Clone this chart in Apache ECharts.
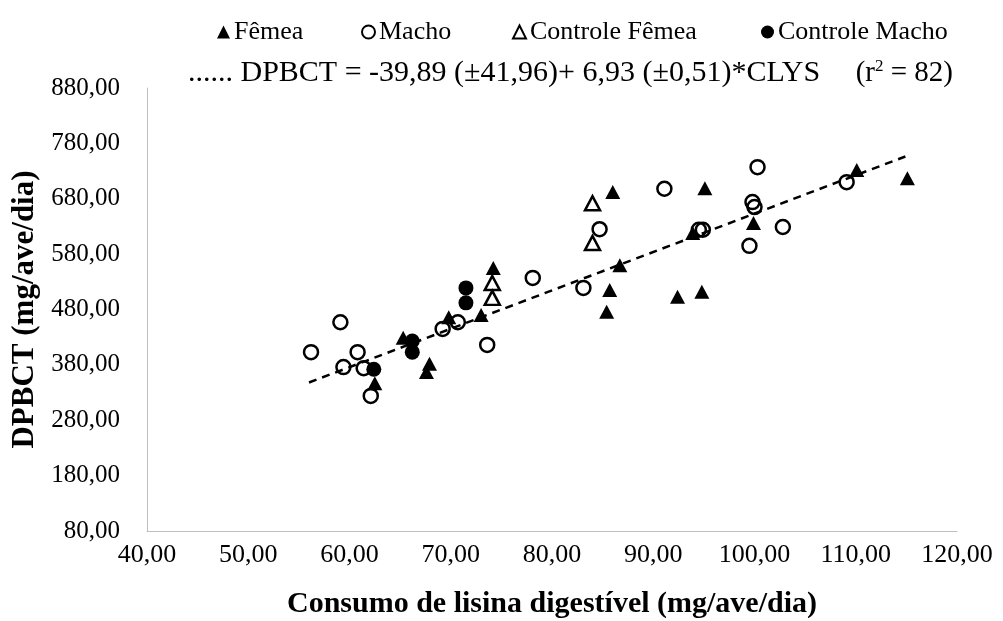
<!DOCTYPE html>
<html>
<head>
<meta charset="utf-8">
<script src="https://cdn.jsdelivr.net/npm/echarts@6/dist/echarts.min.js"></script>
<style>
  html, body { margin: 0; padding: 0; background: #fff; }
  #chart { width: 1003px; height: 621px; }
</style>
</head>
<body>
<div id="chart"></div>
<script>
// Digestible lysine intake (x) vs DPBCT (y), by group
const femea = [
  [62.5, 347], [65.3, 429], [67.9, 382], [67.6, 367], [69.8, 466], [73.0, 470],
  [74.2, 555], [86.0, 692], [86.7, 560], [85.7, 515], [85.4, 476], [95.1, 699],
  [93.9, 618], [92.4, 503], [94.8, 512], [99.9, 636], [110.1, 732], [115.1, 717]
];
const macho = [
  [56.2, 403], [59.1, 457], [59.4, 376], [60.8, 403], [61.4, 374], [62.1, 324],
  [69.2, 445], [70.7, 457], [73.6, 416], [78.1, 537], [83.1, 519], [84.7, 625],
  [91.1, 698], [94.5, 624], [94.9, 624], [100.3, 737], [99.8, 674], [100.0, 665],
  [99.5, 595], [102.8, 629], [109.1, 710]
];
const controleFemea = [[74.1, 528], [74.1, 501], [84.0, 672], [84.0, 600]];
const controleMacho = [[62.4, 372], [66.2, 423], [66.2, 403], [71.5, 519], [71.5, 492]];

// Fitted regression: DPBCT = -39,89 + 6,93 * CLYS
const intercept = -39.89;
const slope = 6.93;
const fitRange = [56.0, 114.9];
const fitLine = fitRange.map(x => [x, intercept + slope * x]);

const xTicks = { min: 40, max: 120, interval: 10 };
const yTicks = { min: 80, max: 880, interval: 100 };

const equationText = '...... DPBCT = -39,89 (±41,96)+ 6,93 (±0,51)*CLYS';
const r2Text = '(r{sup|2} = 82)';

const serif = '"Liberation Serif", "Times New Roman", serif';
const fmt = v => v.toFixed(2).replace('.', ',');

const chart = echarts.init(document.getElementById('chart'));

const openStyle = { color: '#ffffff', borderColor: '#000000', borderWidth: 2.5, opacity: 1 };
const fillStyle = { color: '#000000', borderColor: '#000000', borderWidth: 0, opacity: 1 };

function legendAt(name, left) {
  return {
    data: [name], left: left, top: 14, itemWidth: 13, itemHeight: 13, itemGap: 0,
    selectedMode: false,
    textStyle: { fontFamily: serif, fontSize: 26, color: '#000', padding: [0, 0, 0, -1] }
  };
}

chart.setOption({
  animation: false,
  backgroundColor: '#ffffff',
  grid: {
    left: 147, right: 46, top: 88, bottom: 90,
    containLabel: false, outerBoundsMode: 'none'
  },
  legend: [
    legendAt('Fêmea', 212),
    legendAt('Macho', 356),
    legendAt('Controle Fêmea', 507),
    legendAt('Controle Macho', 756)
  ],
  xAxis: {
    type: 'value', min: xTicks.min, max: xTicks.max, interval: xTicks.interval,
    name: 'Consumo de lisina digestível (mg/ave/dia)',
    nameLocation: 'middle', nameGap: 58,
    nameTextStyle: { fontFamily: serif, fontSize: 30, fontWeight: 'bold', color: '#000' },
    axisLine: { show: true, lineStyle: { color: '#bfbfbf', width: 1 } },
    axisTick: { show: false },
    splitLine: { show: false },
    axisLabel: { formatter: fmt, fontFamily: serif, fontSize: 26, color: '#000', margin: 11 }
  },
  yAxis: {
    type: 'value', min: yTicks.min, max: yTicks.max, interval: yTicks.interval,
    name: 'DPBCT (mg/ave/dia)',
    nameLocation: 'middle', nameGap: 107, nameRotate: 90,
    nameTextStyle: { fontFamily: serif, fontSize: 31, fontWeight: 'bold', color: '#000' },
    axisLine: { show: true, lineStyle: { color: '#bfbfbf', width: 1 } },
    axisTick: { show: false },
    splitLine: { show: false },
    axisLabel: { formatter: fmt, fontFamily: serif, fontSize: 25, color: '#000', margin: 27 }
  },
  graphic: [
    {
      type: 'text', x: 188, y: 73,
      style: {
        text: equationText, fontFamily: serif, fontSize: 30, fill: '#000',
        align: 'left', verticalAlign: 'middle'
      }
    },
    {
      type: 'text', x: 953, y: 73,
      style: {
        text: r2Text, fontFamily: serif, fontSize: 29, fill: '#000',
        align: 'right', verticalAlign: 'middle',
        rich: { sup: { fontFamily: serif, fontSize: 17, verticalAlign: 'top', padding: [0, 0, 10, 0] } }
      }
    }
  ],
  series: [
    {
      name: 'Fêmea', type: 'scatter', data: femea, symbol: 'triangle', symbolSize: [15, 14],
      itemStyle: fillStyle, z: 3
    },
    {
      name: 'Macho', type: 'scatter', data: macho, symbol: 'circle', symbolSize: 14,
      itemStyle: { color: 'rgba(255,255,255,0)', borderColor: '#000', borderWidth: 2.5, opacity: 1 }, z: 4
    },
    {
      name: 'Controle Fêmea', type: 'scatter', data: controleFemea, symbol: 'triangle', symbolSize: [15, 14],
      itemStyle: openStyle, z: 3
    },
    {
      name: 'Controle Macho', type: 'scatter', data: controleMacho, symbol: 'circle', symbolSize: 15,
      itemStyle: fillStyle, z: 3
    },
    {
      name: 'Ajuste', type: 'line', data: fitLine, symbol: 'none', silent: true,
      lineStyle: { color: '#000', width: 2.5, type: [8, 6] }, z: 5
    }
  ]
});
</script>
</body>
</html>
